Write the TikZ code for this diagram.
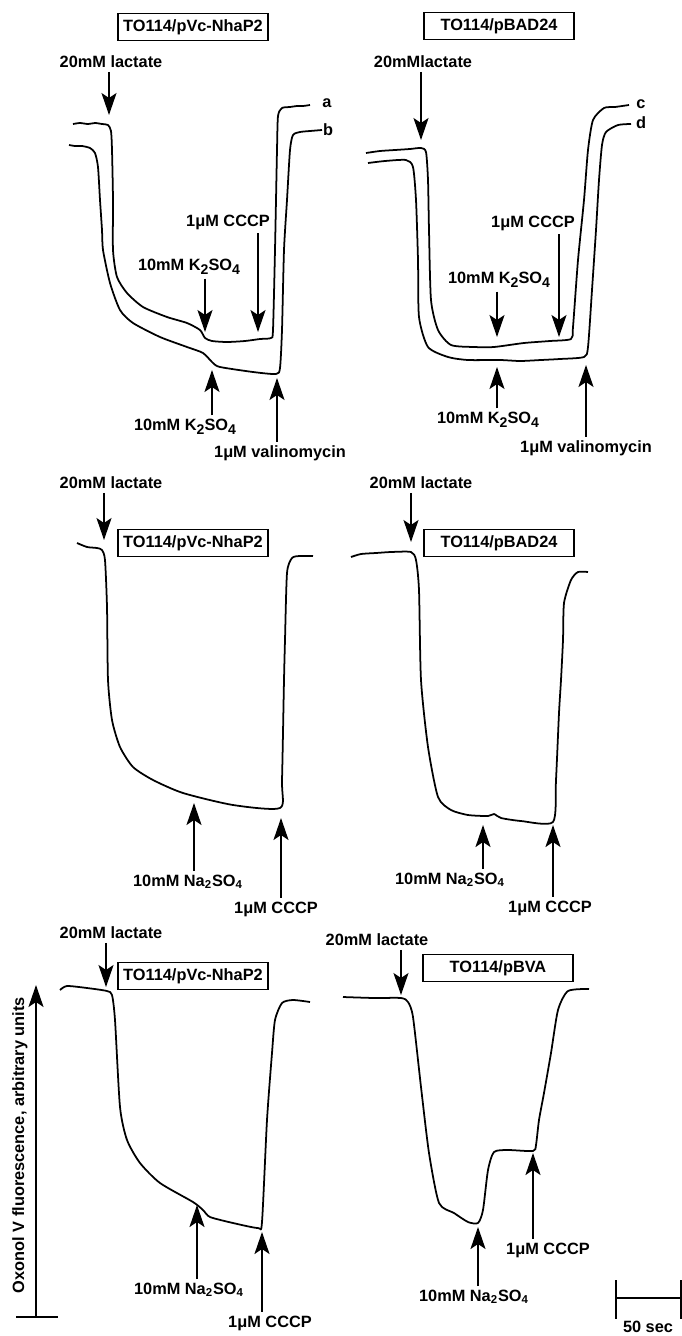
\documentclass[tikz,border=0pt]{standalone}
\usepackage{fontspec}
\setmainfont{Liberation Sans}
\usetikzlibrary{arrows.meta}
\newcommand{\lowidx}[1]{\raisebox{-0.45ex}{\fontsize{8}{9}\selectfont #1}}

\begin{document}
\begin{tikzpicture}[x=0.02cm, y=-0.02cm,
  lbl/.style={font=\fontsize{9.3}{11}\selectfont\bfseries, inner sep=2pt},
  strain/.style={lbl, draw, line width=0.9pt, minimum width=3cm, minimum height=0.54cm},
  stim/.style={-{Stealth[length=0.44cm,width=0.3cm,inset=0.1cm]}, line width=1.1pt},
  trace/.style={line width=1pt, line join=round}]
  \useasboundingbox (0,0) rectangle (682,1336);

  % arrow tips on the traces
  \foreach \n/\x/\y in {t1lac/109/115, t1ku/205/332, t1cccp/258/332, t1kd/212/370, t1val/277/378,
                        t2lac/421/140, t2ku/497/337, t2cccp/559/337, t2kd/497/367, t2val/586/365,
                        t3lac/104/540, t3na/194/803, t3cccp/281/818,
                        t4lac/411/542, t4na/483/825, t4cccp/553/825,
                        t5lac/106/987, t5na/197/1205, t5cccp/262/1232,
                        t6lac/401/995, t6na/478/1227, t6cccp/533/1153}
    \coordinate (\n) at (\x,\y);

  % panel 1: K2SO4, pVc-NhaP2
  \node[strain] (box1) at (193,27) {TO114/pVc-NhaP2};
  \node[lbl] (lac1) at (111,62) {20mM lactate};
  \node[lbl] (cccp1) at (228,222) {1μM CCCP};
  \node[lbl] (k1u) at (189,267) {10mM K\lowidx{2}SO\lowidx{4}};
  \node[lbl] (k1d) at (185,427) {10mM K\lowidx{2}SO\lowidx{4}};
  \node[lbl] (val1) at (280,453) {1μM valinomycin};
  \node[lbl] (ta) at (327,103) {a};
  \node[lbl] (tb) at (328,130) {b};
  \draw[trace] plot[smooth, tension=0.4] coordinates {(73,124) (80,123) (88,124) (95,123) (102,124)
    (108,125) (111,131) (112,150) (113,200) (113,250) (117,277) (127,293) (143,307) (167,317)
    (187,323) (200,330) (205,338) (212,341) (227,342) (245,341) (260,339) (271,338) (273,330)
    (275,250) (277,150) (278,116) (282,108) (290,107) (297,106) (303,106) (310,105)};
  \draw[trace] plot[smooth, tension=0.4] coordinates {(69,145) (75,146) (82,146) (90,148) (95,153)
    (98,167) (100,200) (102,230) (103,250) (110,283) (120,310) (133,323) (160,337) (187,347)
    (203,353) (213,363) (220,367) (253,372) (276,374) (280,368) (282,330) (284,250) (287,200)
    (290,150) (293,135) (300,132) (310,131) (322,130)};
  \draw[stim] (lac1.south -| t1lac) -- (t1lac);
  \draw[stim] (k1u.south -| t1ku) -- (t1ku);
  \draw[stim] (cccp1.south -| t1cccp) -- (t1cccp);
  \draw[stim] (k1d.north -| t1kd) -- (t1kd);
  \draw[stim] (val1.north -| t1val) -- (t1val);

  % panel 2: K2SO4, pBAD24
  \node[strain] (box2) at (499,26) {TO114/pBAD24};
  \node[lbl] (lac2) at (423,62) {20mMlactate};
  \node[lbl] (cccp2) at (533,223) {1μM CCCP};
  \node[lbl] (k2u) at (499,280) {10mM K\lowidx{2}SO\lowidx{4}};
  \node[lbl] (k2d) at (488,420) {10mM K\lowidx{2}SO\lowidx{4}};
  \node[lbl] (val2) at (586,448) {1μM valinomycin};
  \node[lbl] (tc) at (641,104) {c};
  \node[lbl] (td) at (641,123) {d};
  \draw[trace] plot[smooth, tension=0.4] coordinates {(366,153) (380,151) (395,150) (410,149)
    (421,148) (426,152) (428,180) (429,230) (431,300) (438,330) (451,345) (474,347) (494,347)
    (524,343) (550,341) (571,339) (573,327) (578,260) (584,200) (588,150) (593,120) (604,108)
    (615,107) (629,105)};
  \draw[trace] plot[smooth, tension=0.4] coordinates {(368,163) (385,161) (406,160) (413,167)
    (416,200) (418,260) (419,317) (428,347) (448,357) (468,360) (500,360) (520,361) (541,360)
    (560,359) (584,357) (588,347) (592,290) (596,230) (599,180) (602,145) (606,132) (618,125)
    (631,124)};
  \draw[stim] (lac2.south -| t2lac) -- (t2lac);
  \draw[stim] (k2u.south -| t2ku) -- (t2ku);
  \draw[stim] (cccp2.south -| t2cccp) -- (t2cccp);
  \draw[stim] (k2d.north -| t2kd) -- (t2kd);
  \draw[stim] (val2.north -| t2val) -- (t2val);

  % panel 3: Na2SO4, pVc-NhaP2
  \node[lbl] (lac3) at (111,483) {20mM lactate};
  \node[strain] (box3) at (193,543) {TO114/pVc-NhaP2};
  \node[lbl] (na3) at (188,882) {10mM Na\textsubscript{2}SO\textsubscript{4}};
  \node[lbl] (cccp3) at (276,909) {1μM CCCP};
  \draw[trace] plot[smooth, tension=0.4] coordinates {(77,543) (87,547) (97,548) (102,550)
    (105,560) (107,607) (108,680) (112,720) (120,747) (133,767) (153,780) (183,793) (233,805)
    (280,808) (282,780) (284,680) (285,640) (287,573) (292,558) (300,556) (313,556)};
  \draw[stim] (lac3.south -| t3lac) -- (t3lac);
  \draw[stim] (na3.north -| t3na) -- (t3na);
  \draw[stim] (cccp3.north -| t3cccp) -- (t3cccp);

  % panel 4: Na2SO4, pBAD24
  \node[lbl] (lac4) at (421,483) {20mM lactate};
  \node[strain] (box4) at (499,543) {TO114/pBAD24};
  \node[lbl] (na4) at (450,880) {10mM Na\textsubscript{2}SO\textsubscript{4}};
  \node[lbl] (cccp4) at (550,908) {1μM CCCP};
  \draw[trace] plot[smooth, tension=0.4] coordinates {(351,557) (361,554) (376,553) (391,552)
    (411,552) (416,560) (419,590) (421,680) (428,747) (438,797) (451,810) (468,815) (488,816)
    (494,814) (501,818) (521,821) (553,822) (556,780) (559,713) (561,680) (563,640) (564,603)
    (571,580) (578,572) (588,572)};
  \draw[stim] (lac4.south -| t4lac) -- (t4lac);
  \draw[stim] (na4.north -| t4na) -- (t4na);
  \draw[stim] (cccp4.north -| t4cccp) -- (t4cccp);

  % panel 5: Na2SO4, pVc-NhaP2
  \node[lbl] (lac5) at (111,933) {20mM lactate};
  \node[strain] (box5) at (193,976) {TO114/pVc-NhaP2};
  \node[lbl] (na5) at (189,1290) {10mM Na\textsubscript{2}SO\textsubscript{4}};
  \node[lbl] (cccp5) at (270,1323) {1μM CCCP};
  \draw[trace] plot[smooth, tension=0.4] coordinates {(60,990) (67,986) (87,988) (107,991)
    (112,995) (115,1020) (120,1107) (127,1140) (140,1163) (160,1183) (193,1202) (203,1210)
    (210,1217) (233,1223) (258,1228) (262,1222) (267,1120) (272,1053) (275,1020) (282,1003)
    (293,1000) (310,1002)};
  \draw[stim] (lac5.south -| t5lac) -- (t5lac);
  \draw[stim] (na5.north -| t5na) -- (t5na);
  \draw[stim] (cccp5.north -| t5cccp) -- (t5cccp);

  % panel 6: Na2SO4, pBVA
  \node[lbl] (lac6) at (377,940) {20mM lactate};
  \node[strain] (box6) at (498,968) {TO114/pBVA};
  \node[lbl] (na6) at (474,1297) {10mM Na\textsubscript{2}SO\textsubscript{4}};
  \node[lbl] (cccp6) at (548,1250) {1μM CCCP};
  \draw[trace] plot[smooth, tension=0.4] coordinates {(343,997) (374,998) (401,998) (408,1002)
    (413,1017) (421,1087) (429,1153) (439,1203) (454,1213) (468,1222) (478,1223) (483,1210)
    (488,1170) (494,1152) (508,1150) (533,1151) (536,1145) (539,1120) (544,1093) (551,1053)
    (558,1010) (568,991) (589,989)};
  \draw[stim] (lac6.south -| t6lac) -- (t6lac);
  \draw[stim] (na6.north -| t6na) -- (t6na);
  \draw[stim] (cccp6.north -| t6cccp) -- (t6cccp);

  % fluorescence axis and time bar
  \coordinate (ax0) at (36,1317);
  \coordinate (ax1) at (36,985);
  \draw[stim] (ax0) -- (ax1);
  \draw[line width=1.1pt] (16,1317) -- (58,1317);
  \node[lbl, rotate=90] (ylab) at (20,1145) {Oxonol V fluorescence, arbitrary units};
  \coordinate (sb0) at (616,1298);
  \coordinate (sb1) at (681,1298);
  \draw[line width=1.1pt] (sb0) -- (sb1);
  \draw[line width=1.1pt] (616,1280) -- (616,1319) (681,1280) -- (681,1319);
  \node[lbl] (sblab) at (648,1327) {50 sec};
\end{tikzpicture}
\end{document}
